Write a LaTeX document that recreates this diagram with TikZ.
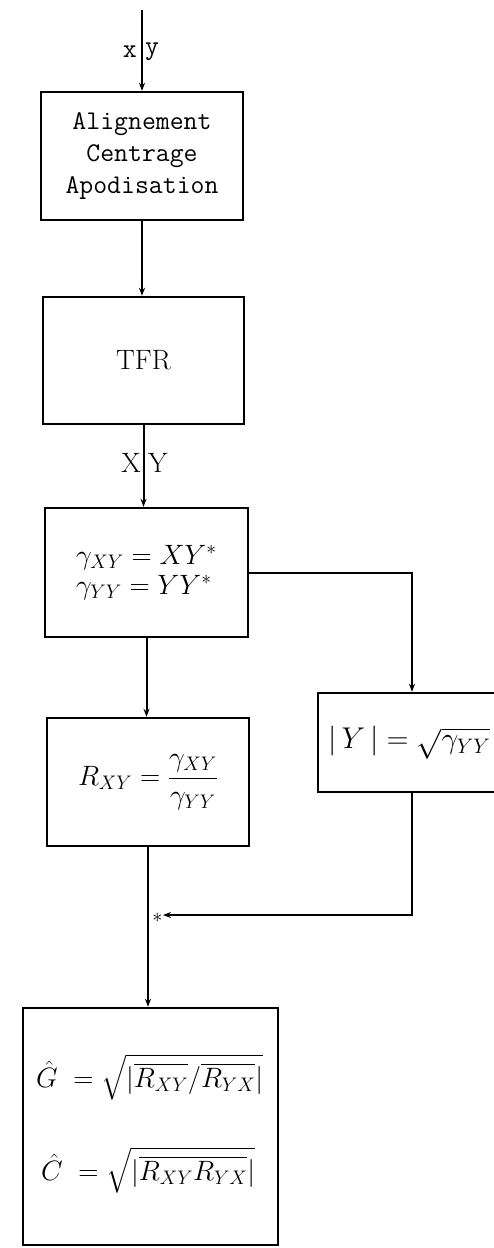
\RequirePackage{fix-cm}
\documentclass[tikz,border=0pt]{standalone}
\usepackage{exscale}
\usepackage{fontspec}
\usetikzlibrary{arrows.meta}
\begin{document}
\begin{tikzpicture}[x=1pt,y=-1pt,
  box/.style={draw, line width=2.4pt, inner sep=0pt},
  arr/.style={line width=2pt, -{Stealth[length=8pt,width=6pt]}},
  mono/.style={font=\fontsize{27}{32}\selectfont\ttfamily},
  mth/.style={font=\fontsize{28}{30}\selectfont},
  bigm/.style={font=\fontsize{30}{34}\selectfont}]
\clip (0,0) rectangle (494,1248);
\fill[white] (0,0) rectangle (494,1248);
% boxes
\node[box, minimum width=202, minimum height=128, mono, align=center] (b1) at (142,156) {Alignement\\Centrage\\Apodisation};
\node[box, minimum width=201, minimum height=127, mth] (b2) at (143.5,360.5) {TFR};
\node[box, minimum width=203, minimum height=129, mth, align=left] (b3) at (146.5,572.5) {$\gamma_{XY} = XY^{*}$\\$\gamma_{YY} = YY^{*}$};
\node[box, minimum width=202, minimum height=128, mth] (b4) at (148,782) {$R_{XY} = \displaystyle\frac{\gamma_{XY}}{\gamma_{YY}}$};
\node[box, anchor=west, text width=200, inner xsep=10pt, minimum height=99, bigm, align=left] (b5) at (317,742.5) {$|\,Y\,| = \sqrt{\gamma_{YY}}$};
\node[box, minimum width=255, minimum height=237] (b6) at (150.5,1126.5) {};
\node[mth, anchor=west, inner sep=0pt] (g) at (36,1077) {$\hat{G}\;=\sqrt{|\overline{R_{XY}}/\overline{R_{YX}}|}$};
\node[mth, anchor=west, inner sep=0pt] (c) at (41,1170) {$\hat{C}\;=\sqrt{|\overline{R_{XY}R_{YX}}|}$};
% input
\coordinate (in) at (142,10);
\draw[arr] (in) -- (b1.north);
\node[mono, anchor=east, inner sep=0pt] (lx) at (137,52) {x};
\node[mono, anchor=west, inner sep=0pt] (ly) at (145,52) {y};
% main chain
\draw[arr] (b1.south) -- (b1.south |- b2.north);
\draw[arr] (b2.south) -- (b2.south |- b3.north);
\node[mth, anchor=east, inner sep=0pt] (lX) at (141,463) {X};
\node[mth, anchor=west, inner sep=0pt] (lY) at (148,463) {Y};
\draw[arr] (b3.south) -- (b3.south |- b4.north);
\draw[arr] (b4.south) -- (b4.south |- b6.north);
% side branch
\draw[arr] (b3.east) -| ([xshift=95pt]b5.north west);
\coordinate (m) at (163,915);
\draw[arr] ([xshift=95pt]b5.south west) |- (m);
\node[font=\fontsize{20}{20}\selectfont, anchor=east, inner sep=0.5pt] (st) at ([yshift=-3pt]m) {$*$};
\end{tikzpicture}
\end{document}
